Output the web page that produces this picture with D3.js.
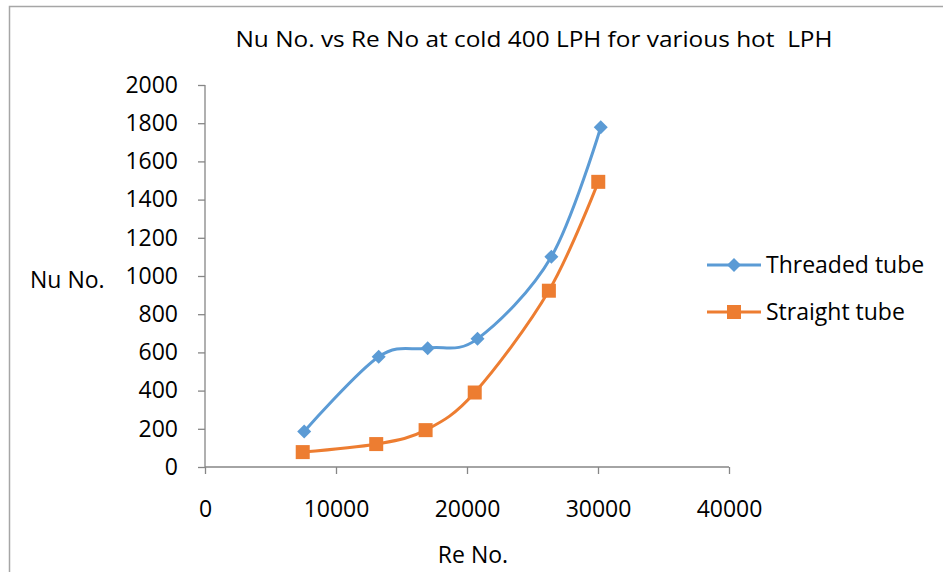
<!DOCTYPE html>
<html>
<head>
<meta charset="utf-8">
<script src="https://cdn.jsdelivr.net/npm/d3@7"></script>
<style>
  html, body { margin: 0; padding: 0; background: #fff; }
  svg { display: block; }
  text { font-family: "Open Sans", "Liberation Sans", sans-serif; fill: #000; white-space: pre; }
</style>
</head>
<body>
<svg id="chart" width="943" height="572"></svg>
<script>
const chartTitle = "Nu No. vs Re No at cold 400 LPH for various hot  LPH";
const xAxisTitle = "Re No.";
const yAxisTitle = "Nu No.";
const seriesNames = ["Threaded tube", "Straight tube"];
const reThreaded = [7570, 13260, 17000, 20800, 26440, 30210];
const nuThreaded = [186, 577, 622, 671, 1101, 1779];
const reStraight = [7460, 13070, 16840, 20590, 26250, 30020];
const nuStraight = [78, 120, 193, 390, 923, 1493];
const xTicks = [0, 10000, 20000, 30000, 40000];
const yTicks = [0, 200, 400, 600, 800, 1000, 1200, 1400, 1600, 1800, 2000];
const colors = ["#5B9BD5", "#ED7D31"];

const svg = d3.select("#chart");
const axisColor = "#868686";
const fs = 23;

// outer chart border (extends beyond the window on right/bottom)
svg.append("rect").attr("x", 9.5).attr("y", 6.5).attr("width", 1000).attr("height", 1000)
  .attr("fill", "none").attr("stroke", "#A6A6A6").attr("stroke-width", 1.5);

const x = d3.scaleLinear().domain([0, 40000]).range([205, 729]);
const y = d3.scaleLinear().domain([0, 2000]).range([467, 85]);

// title
svg.append("text").attr("x", 534).attr("y", 47).attr("text-anchor", "middle")
  .attr("font-size", 22).attr("textLength", 597).attr("lengthAdjust", "spacingAndGlyphs")
  .text(chartTitle);

// y axis
const yAxis = d3.axisLeft(y).tickValues(yTicks).tickSize(7).tickPadding(20).tickFormat(d3.format("d"));
const gy = svg.append("g").attr("transform", "translate(205,0)").call(yAxis);
gy.select(".domain").attr("stroke", axisColor).attr("stroke-width", 1.3).attr("d", "M0," + y(2000) + "V" + y(0));
gy.selectAll(".tick line").attr("stroke", axisColor).attr("stroke-width", 1.3);
gy.selectAll(".tick text").attr("font-size", fs).attr("fill", "#000").style("font-family", "'Open Sans', sans-serif");

// x axis
const xAxis = d3.axisBottom(x).tickValues(xTicks).tickSize(7).tickPadding(27).tickFormat(d3.format("d"));
const gx = svg.append("g").attr("transform", "translate(0,467)").call(xAxis);
gx.select(".domain").attr("stroke", axisColor).attr("stroke-width", 1.3).attr("d", "M" + x(0) + ",0H" + x(40000));
gx.selectAll(".tick line").attr("stroke", axisColor).attr("stroke-width", 1.3);
gx.selectAll(".tick text").attr("font-size", fs).attr("fill", "#000").style("font-family", "'Open Sans', sans-serif");

// axis titles
svg.append("text").attr("x", 30).attr("y", 288).attr("font-size", fs).text(yAxisTitle);
svg.append("text").attr("x", 473).attr("y", 563).attr("text-anchor", "middle").attr("font-size", fs).text(xAxisTitle);

const series = [
  { name: seriesNames[0], data: reThreaded.map((r, i) => [r, nuThreaded[i]]), color: colors[0], marker: "diamond" },
  { name: seriesNames[1], data: reStraight.map((r, i) => [r, nuStraight[i]]), color: colors[1], marker: "square" }
];

const line = d3.line().x(d => x(d[0])).y(d => y(d[1])).curve(d3.curveCatmullRom.alpha(0));

function drawMarker(g, type, color, cx, cy) {
  if (type === "square") {
    g.append("rect").attr("x", cx - 7).attr("y", cy - 7).attr("width", 14).attr("height", 14).attr("fill", color);
  } else {
    const s = 7;
    g.append("path").attr("d", `M${cx},${cy - s}L${cx + s},${cy}L${cx},${cy + s}L${cx - s},${cy}Z`).attr("fill", color);
  }
}

series.forEach(s => {
  svg.append("path").datum(s.data).attr("d", line).attr("fill", "none")
    .attr("stroke", s.color).attr("stroke-width", 3).attr("stroke-linejoin", "round");
  const g = svg.append("g");
  s.data.forEach(d => drawMarker(g, s.marker, s.color, x(d[0]), y(d[1])));
});

// legend
const legendY = [265, 312];
series.forEach((s, i) => {
  const g = svg.append("g");
  g.append("line").attr("x1", 707).attr("x2", 761).attr("y1", legendY[i]).attr("y2", legendY[i])
    .attr("stroke", s.color).attr("stroke-width", 3);
  drawMarker(g, s.marker, s.color, 734, legendY[i]);
  g.append("text").attr("x", 766).attr("y", legendY[i] + 8).attr("font-size", fs).text(s.name);
});
</script>
</body>
</html>
